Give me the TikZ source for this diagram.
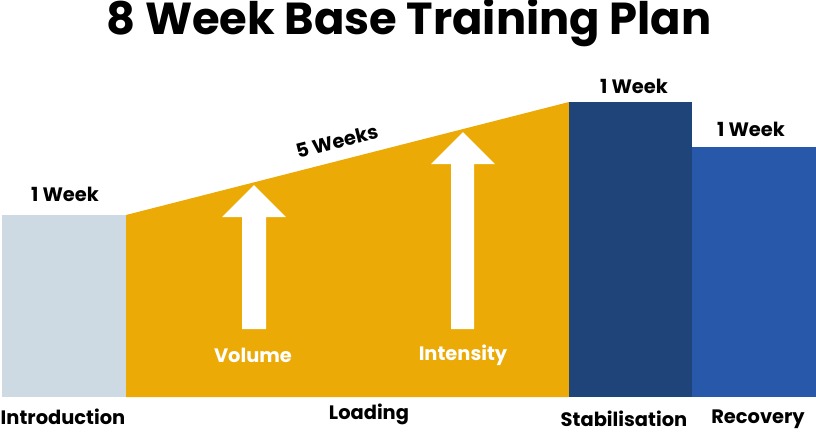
\documentclass[tikz,border=0pt]{standalone}
\usepackage{fontspec}
\setmainfont{Poppins}
\usetikzlibrary{calc}

\definecolor{introcol}{HTML}{CDDAE3}
\definecolor{loadcol}{HTML}{EBAA05}
\definecolor{stabcol}{HTML}{1F4479}
\definecolor{recocol}{HTML}{2858AA}

\begin{document}
\begin{tikzpicture}[x=1bp,y=-1bp,
    lbl/.style={font=\fontsize{19.5}{19.5}\selectfont\bfseries, text=black, inner sep=0pt},
    wlbl/.style={lbl, text=white},
    uparrow/.style={fill=white}]

  % --------- knobs you can tweak ----------
  \def\base{397}  % bottom of all blocks
  \def\xA{2}      % intro left
  \def\xB{126}    % intro / loading
  \def\xC{569}    % loading / stabilisation
  \def\xD{692}    % stabilisation / recovery
  \def\xE{816}    % recovery right
  % ----------------------------------------

  \useasboundingbox (0,0) rectangle (816,432);

  % Title
  \node[font=\fontsize{45}{45}\selectfont\bfseries, inner sep=0pt] (title) at (409,23) {8 Week Base Training Plan};

  % ============== Blocks =================
  \fill[introcol] (\xA,215) rectangle (\xB,\base);
  \fill[loadcol] (\xB,215) -- (\xC,102) -- (\xC,\base) -- (\xB,\base) -- cycle;
  \fill[stabcol] (\xC,102) rectangle (\xD,\base);
  \fill[recocol] (\xD,147) rectangle (\xE,\base);

  % ============== Arrows =================
  % Volume
  \fill[uparrow] (242,329) -- (266,329) -- (266,217) -- (286,217)
    -- (254,185) -- (222,217) -- (242,217) -- cycle;
  % Intensity
  \fill[uparrow] (451,329) -- (474,329) -- (474,164) -- (495,164)
    -- (463,132) -- (431,164) -- (451,164) -- cycle;

  \node[wlbl] (volume) at (253,355) {Volume};
  \node[wlbl] (intensity) at (463,355) {Intensity};

  % Durations
  \node[lbl] (wkintro) at (65,194) {1 Week};
  \node[lbl, rotate=14.3] (wkload) at (337,141) {5 Weeks};
  \node[lbl] (wkstab) at (634,86) {1 Week};
  \node[lbl] (wkreco) at (751,129) {1 Week};

  % Phase names
  \node[lbl] (intro) at (63,417) {Introduction};
  \node[lbl] (loading) at (369,414) {Loading};
  \node[lbl] (stab) at (624,419) {Stabilisation};
  \node[lbl] (reco) at (758,419) {Recovery};

\end{tikzpicture}
\end{document}
